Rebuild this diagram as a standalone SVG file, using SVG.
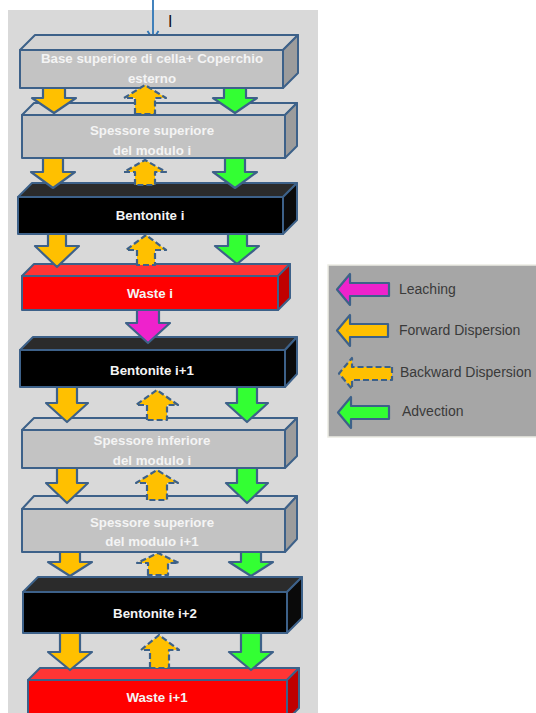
<svg xmlns="http://www.w3.org/2000/svg" width="536" height="713" viewBox="0 0 536 713">
<style>
.bx{stroke:#3d6189;stroke-width:2;stroke-linejoin:round}
.g .f{fill:#c3c3c3}.g .t{fill:#d3d3d3}.g .s{fill:#9c9c9c}
.k .f{fill:#000}.k .t{fill:#2b2b2b}.k .s{fill:#0a0a0a}
.r .f{fill:#ff0000}.r .t{fill:#ff3535}.r .s{fill:#c00000}
.lbl{font-family:"Liberation Sans",Arial,sans-serif;font-weight:bold;font-size:13.3px;text-anchor:middle;fill:#f4f4f4}
.ar{stroke:#3d6189;stroke-width:2.2;stroke-linejoin:round}
.o{fill:#ffc000}.gr{fill:#33ff33}.m{fill:#ee22cc}
.d{stroke-dasharray:6 3}
.lg{font-family:"Liberation Sans",Arial,sans-serif;font-size:14px;fill:#3a3a3a}
</style>
<rect x="8" y="10" width="310" height="703" fill="#d9d9d9"/>
<g id="inflow">
<line x1="153" y1="0" x2="153" y2="39" stroke="#2e75b6" stroke-width="1.8"/>
<polyline points="147.5,31 153,39.5 158.5,31" fill="none" stroke="#2e75b6" stroke-width="1.8"/>
<text x="168" y="27" font-family="Liberation Sans,Arial,sans-serif" font-size="16" fill="#111">I</text>
</g>
<g id="box1" class="g">
<polygon class="bx t" points="20,50 35,35 298,35 283,50"/>
<polygon class="bx s" points="283,50 298,35 298,73 283,88"/>
<rect class="bx f" x="20" y="50" width="263" height="38"/>
<text class="lbl" x="152" y="63">Base superiore  di cella+ Coperchio</text>
<text class="lbl" x="152" y="83">esterno</text>
</g>
<g id="box2" class="g">
<polygon class="bx t" points="22,115 34,103 297,103 285,115"/>
<polygon class="bx s" points="285,115 297,103 297,146 285,158"/>
<rect class="bx f" x="22" y="115" width="263" height="43"/>
<text class="lbl" x="152" y="135">Spessore superiore</text>
<text class="lbl" x="152" y="155">del modulo  i</text>
</g>
<g id="box3" class="k">
<polygon class="bx t" points="18,197 32,183 297,183 283,197"/>
<polygon class="bx s" points="283,197 297,183 297,220 283,234"/>
<rect class="bx f" x="18" y="197" width="265" height="37"/>
<text class="lbl" x="150" y="220">Bentonite i</text>
</g>
<g id="box4" class="r">
<polygon class="bx t" points="22,276 34,264 290,264 278,276"/>
<polygon class="bx s" points="278,276 290,264 290,298 278,310"/>
<rect class="bx f" x="22" y="276" width="256" height="34"/>
<text class="lbl" x="150" y="298">Waste i</text>
</g>
<g id="box5" class="k">
<polygon class="bx t" points="20,350 33,337 297,337 285,350"/>
<polygon class="bx s" points="285,350 297,337 297,374 285,387"/>
<rect class="bx f" x="20" y="350" width="265" height="37"/>
<text class="lbl" x="152" y="375">Bentonite i+1</text>
</g>
<g id="box6" class="g">
<polygon class="bx t" points="22,430 34,418 297,418 285,430"/>
<polygon class="bx s" points="285,430 297,418 297,456 285,468"/>
<rect class="bx f" x="22" y="430" width="263" height="38"/>
<text class="lbl" x="152" y="445">Spessore  inferiore</text>
<text class="lbl" x="152" y="465">del modulo  i</text>
</g>
<g id="box7" class="g">
<polygon class="bx t" points="22,509 34,496 297,496 285,509"/>
<polygon class="bx s" points="285,509 297,496 297,539 285,552"/>
<rect class="bx f" x="22" y="509" width="263" height="43"/>
<text class="lbl" x="152" y="527">Spessore  superiore</text>
<text class="lbl" x="152" y="546">del modulo  i+1</text>
</g>
<g id="box8" class="k">
<polygon class="bx t" points="23,592 38,577 302,577 287,592"/>
<polygon class="bx s" points="287,592 302,577 302,618 287,633"/>
<rect class="bx f" x="23" y="592" width="264" height="41"/>
<text class="lbl" x="155" y="618">Bentonite i+2</text>
</g>
<g id="box9" class="r">
<polygon class="bx t" points="28,680 40,668 299,668 287,680"/>
<polygon class="bx s" points="287,680 299,668 299,708 287,720"/>
<rect class="bx f" x="28" y="680" width="259" height="40"/>
<text class="lbl" x="157" y="702">Waste i+1</text>
</g>
<g id="connectors">
<path class="ar o" d="M43,88 H65 V98 H76 L54,113 L32,98 H43 Z"/>
<path class="ar o d" d="M135,114 V98 H124 L145,85 L166,98 H155 V114 Z"/>
<path class="ar gr" d="M224,88 H246 V98 H257 L235,113 L213,98 H224 Z"/>
<path class="ar o" d="M43,158 H63 V172 H75 L53,188 L31,172 H43 Z"/>
<path class="ar o d" d="M135,185 V172 H124 L145,160 L166,172 H155 V185 Z"/>
<path class="ar gr" d="M225,158 H245 V172 H257 L235,188 L213,172 H225 Z"/>
<path class="ar o" d="M48,234 H66 V246 H79 L57,267 L35,246 H48 Z"/>
<path class="ar o d" d="M137,265 V250 H126 L146,235 L166,250 H155 V265 Z"/>
<path class="ar gr" d="M228,234 H247 V246 H259 L237,264 L215,246 H228 Z"/>
<path class="ar m" d="M137,310 H159 V323 H170 L148,343 L126,323 H137 Z"/>
<path class="ar o" d="M57,387 H77 V403 H88 L67,422 L46,403 H57 Z"/>
<path class="ar o d" d="M147,420 V405 H136 L157,390 L178,405 H167 V420 Z"/>
<path class="ar gr" d="M237,387 H257 V403 H268 L247,422 L226,403 H237 Z"/>
<path class="ar o" d="M57,468 H77 V483 H88 L67,503 L46,483 H57 Z"/>
<path class="ar o d" d="M147,500 V483 H136 L157,470 L178,483 H167 V500 Z"/>
<path class="ar gr" d="M237,468 H257 V483 H268 L247,503 L226,483 H237 Z"/>
<path class="ar o" d="M60,552 H80 V562 H92 L70,576 L48,562 H60 Z"/>
<path class="ar o d" d="M148,575 V563 H137 L158,553 L179,563 H168 V575 Z"/>
<path class="ar gr" d="M241,552 H261 V562 H273 L251,576 L229,562 H241 Z"/>
<path class="ar o" d="M60,633 H80 V652 H92 L70,670 L48,652 H60 Z"/>
<path class="ar o d" d="M150,668 V650 H141 L159,635 L179,650 H169 V668 Z"/>
<path class="ar gr" d="M241,633 H261 V652 H273 L251,670 L229,652 H241 Z"/>
</g>
<g id="legend">
<rect x="328" y="265" width="210" height="172" fill="#a6a6a6" stroke="#ecece4" stroke-width="1.5"/>
<path class="ar m" d="M389,283 V296 H350 V305 L337,289.5 L350,274 V283 Z"/>
<text class="lg" x="399" y="294">Leaching</text>
<path class="ar o" d="M388,324 V337 H350 V346 L337,330.5 L350,315 V324 Z"/>
<text class="lg" x="399" y="335">Forward Dispersion</text>
<path class="ar o d" d="M392,367 V380 H352 V389 L339,373.5 L352,358 V367 Z"/>
<text class="lg" x="400" y="377">Backward Dispersion</text>
<path class="ar gr" d="M389,406 V419 H351 V428 L338,412.5 L351,397 V406 Z"/>
<text class="lg" x="402" y="416">Advection</text>
</g>
</svg>
